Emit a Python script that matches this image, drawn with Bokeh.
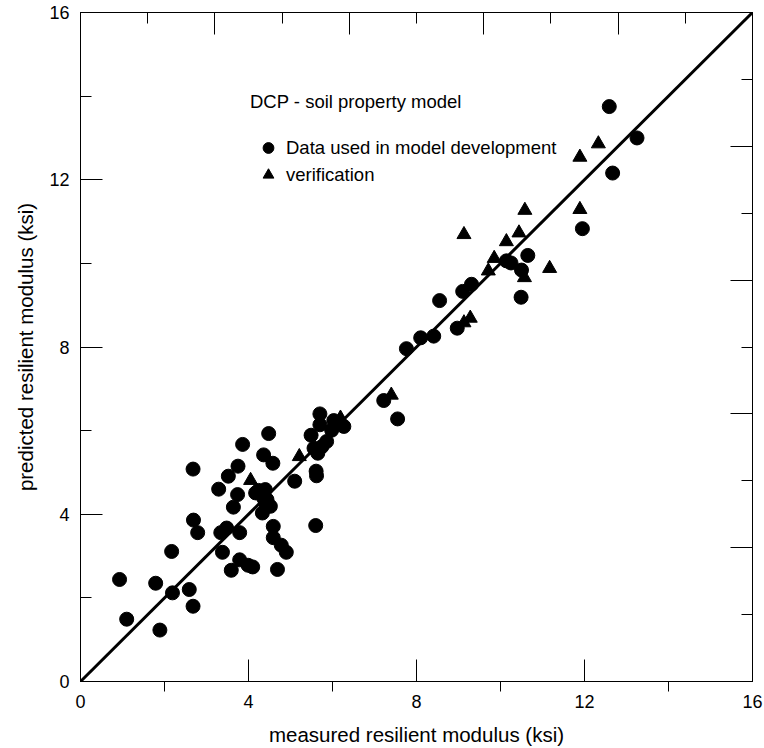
from bokeh.plotting import figure
from bokeh.models import LinearAxis, FixedTicker, Legend, LegendItem, Range1d
from bokeh.embed import file_html
from bokeh.resources import INLINE

# Data used in model development (circles)
dev_x = [0.93, 1.10, 1.89, 1.79, 2.19, 2.17, 2.59, 2.68, 2.68, 2.69,
         2.79, 3.29, 3.38, 3.34, 3.48, 3.52, 3.59, 3.64, 3.75, 3.74,
         3.79, 3.79, 3.86, 3.99, 4.10, 4.48, 4.36, 4.58, 4.24, 4.40,
         4.17, 4.36, 4.44, 4.52, 4.33, 4.40, 4.59, 4.59, 4.78, 4.90,
         4.69, 5.10, 5.49, 5.61, 5.62, 5.60, 5.70, 5.70, 6.03, 6.27,
         5.98, 5.86, 5.75, 5.56, 5.65, 7.22, 7.55, 7.76, 8.10, 8.41,
         8.55, 8.97, 9.10, 9.31, 10.14, 10.25, 10.50, 10.49, 10.65, 11.95,
         12.67, 12.59, 13.25]
dev_y = [2.44, 1.49, 1.23, 2.35, 2.12, 3.11, 2.20, 1.80, 5.08, 3.86,
         3.56, 4.60, 3.09, 3.56, 3.67, 4.91, 2.66, 4.17, 5.15, 4.47,
         3.56, 2.91, 5.67, 2.78, 2.74, 5.93, 5.42, 5.22, 4.57, 4.59,
         4.51, 4.39, 4.35, 4.19, 4.03, 4.27, 3.71, 3.44, 3.26, 3.09,
         2.68, 4.79, 5.89, 5.03, 4.92, 3.73, 6.40, 6.14, 6.24, 6.10,
         6.01, 5.74, 5.62, 5.58, 5.46, 6.72, 6.28, 7.96, 8.22, 8.26,
         9.11, 8.45, 9.33, 9.50, 10.06, 10.01, 9.84, 9.19, 10.19, 10.83,
         12.16, 13.75, 13.00]

# Verification data (triangles)
ver_x = [4.05, 5.21, 6.19, 7.40, 9.13, 9.28, 9.13, 9.71, 9.85, 10.14,
         10.44, 10.57, 10.58, 11.17, 11.89, 11.89, 12.33]
ver_y = [4.81, 5.38, 6.30, 6.85, 8.58, 8.69, 10.69, 9.82, 10.12, 10.52,
         10.73, 9.66, 11.27, 9.88, 11.29, 12.54, 12.86]

# line of equality
line_x = [0, 16]
line_y = [0, 16]

major_ticks = [0, 4, 8, 12, 16]
minor_ticks = [2, 6, 10, 14]
sec_major = [3.2, 6.4, 9.6, 12.8]
sec_minor = [1.6, 4.8, 8.0, 11.2, 14.4]

FONT = "Liberation Sans"

p = figure(width=764, height=748, x_range=Range1d(0, 16), y_range=Range1d(0, 16),
           output_backend="svg", toolbar_location=None,
           x_axis_location=None, y_axis_location=None,
           min_border_left=80, min_border_right=12, min_border_top=12, min_border_bottom=66)
p.grid.visible = False
p.outline_line_color = "black"
p.outline_line_width = 1


def style_main(ax):
    ax.ticker = FixedTicker(ticks=major_ticks, minor_ticks=minor_ticks)
    ax.axis_line_color = "black"
    ax.major_tick_line_color = "black"
    ax.minor_tick_line_color = "black"
    ax.major_label_text_font = FONT
    ax.major_label_text_font_size = "18px"
    ax.major_label_text_color = "black"
    ax.axis_label_text_font = FONT
    ax.axis_label_text_font_size = "20.5px"
    ax.axis_label_text_font_style = "normal"
    ax.axis_label_text_color = "black"
    ax.major_tick_in = 22
    ax.major_tick_out = 0


xaxis = LinearAxis(axis_label="measured resilient modulus (ksi)")
style_main(xaxis)
xaxis.minor_tick_in = 0
xaxis.minor_tick_out = 10
xaxis.major_label_standoff = 3
xaxis.axis_label_standoff = 12
p.add_layout(xaxis, "below")

yaxis = LinearAxis(axis_label="predicted resilient modulus (ksi)")
style_main(yaxis)
yaxis.minor_tick_in = 11
yaxis.minor_tick_out = 0
yaxis.major_label_standoff = 11
yaxis.axis_label_standoff = 9
yaxis.major_label_orientation = "horizontal"
p.add_layout(yaxis, "left")

# unlabelled secondary tick scales on top and right (long and short ticks)
for loc in ("above", "right"):
    for ticks, length in ((sec_major, 22), (sec_minor, 11)):
        ax = LinearAxis(ticker=FixedTicker(ticks=[], minor_ticks=ticks))
        ax.axis_line_color = "black"
        ax.major_tick_line_color = None
        ax.minor_tick_line_color = "black"
        ax.major_tick_in = 0
        ax.major_tick_out = 0
        ax.minor_tick_in = length
        ax.minor_tick_out = 0
        ax.major_label_standoff = 0
        ax.axis_label_standoff = 0
        p.add_layout(ax, loc)

p.line(line_x, line_y, line_color="black", line_width=3)
r_dev = p.scatter(dev_x, dev_y, marker="circle", size=14, fill_color="black", line_color="black")
r_ver = p.scatter(ver_x, ver_y, marker="triangle", size=14, fill_color="black", line_color="black")

legend = Legend(items=[LegendItem(label="Data used in model development", renderers=[r_dev]),
                       LegendItem(label="verification", renderers=[r_ver])],
                title="DCP - soil property model",
                location=(170, 493))
legend.title_text_font = FONT
legend.title_text_font_size = "18.5px"
legend.title_text_font_style = "normal"
legend.title_text_color = "black"
legend.title_standoff = 21
legend.label_text_font = FONT
legend.label_text_font_size = "18.5px"
legend.label_text_color = "black"
legend.glyph_width = 36
legend.glyph_height = 27
legend.label_height = 27
legend.label_standoff = 0
legend.spacing = 0
legend.padding = 0
legend.margin = 0
legend.background_fill_alpha = 0
legend.border_line_color = None
p.add_layout(legend, "center")

open("out.html", "w").write(file_html(p, INLINE))
